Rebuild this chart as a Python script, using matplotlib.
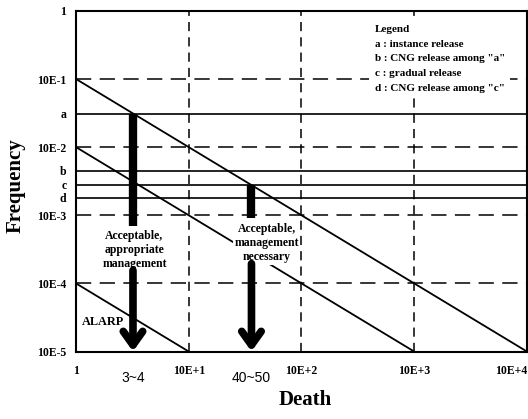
import matplotlib
matplotlib.use('Agg')
import matplotlib.pyplot as plt
import numpy as np

# y levels
level_a = 3.1e-2
level_b = 4.5e-3
level_c = 2.8e-3
level_d = 1.8e-3

y_ticks = [1e-5, 1e-4, 1e-3, level_d, level_c, level_b, 1e-2, level_a, 1e-1, 1]
y_labels = ['10E-5', '10E-4', '10E-3', 'd', 'c', 'b', '10E-2', 'a', '10E-1', '1']
x_ticks = [1, 10, 100, 1000, 10000]
x_labels = ['1', '10E+1', '10E+2', '10E+3', '10E+4']

# criterion lines (death, frequency)
line_x = [[1, 10000], [1, 1000], [1, 10]]
line_y = [[1e-1, 1e-5], [1e-2, 1e-5], [1e-4, 1e-5]]

# arrows: x position, top of bar, end of upper part, start of lower part
arrow_x = [3.2, 36]
arrow_top = [level_a, level_c]
arrow_mid_end = [7.0e-4, 9.2e-4]
arrow_low_start = [1.55e-4, 1.95e-4]
arrow_labels = ['3~4', '40~50']
arrow_texts = ['Acceptable,\nappropriate\nmanagement', 'Acceptable,\nmanagement\nnecessary']
text_pos = [(3.3, 3.1e-4), (49, 3.9e-4)]

legend_lines = ['Legend', 'a : instance release', 'b : CNG release among "a"',
                'c : gradual release', 'd : CNG release among "c"']

serif = 'Liberation Serif'

fig = plt.figure(figsize=(5.28, 4.19), dpi=100)
ax = fig.add_axes([0.144, 0.161, 0.854, 0.813])
ax.set_xscale('log')
ax.set_yscale('log')
ax.set_xlim(1, 10000)
ax.set_ylim(1e-5, 1)

# dashed grid (vertical ones drawn above the text boxes)
for xv in x_ticks[1:-1]:
    ax.axvline(xv, color='k', lw=1.1, ls=(0, (6, 4)), zorder=3)
for yv in [1e-1, 1e-2, 1e-3, 1e-4]:
    ax.axhline(yv, color='k', lw=1.1, ls=(0, (10, 5.5)))

for yv in [level_a, level_b, level_c, level_d]:
    ax.axhline(yv, color='k', lw=1.2)

for xs, ys in zip(line_x, line_y):
    ax.plot(xs, ys, color='k', lw=1.3)

for i in range(len(arrow_x)):
    ax.plot([arrow_x[i], arrow_x[i]], [arrow_top[i], arrow_mid_end[i]],
            color='k', lw=6, solid_capstyle='butt', zorder=4)
    ax.annotate('', xy=(arrow_x[i], 1e-5), xytext=(arrow_x[i], arrow_low_start[i]),
                arrowprops=dict(arrowstyle='->, head_width=0.5, head_length=0.7',
                                lw=5.5, color='k', shrinkA=0, shrinkB=0,
                                mutation_scale=14), zorder=4)
    ax.text(text_pos[i][0], text_pos[i][1], arrow_texts[i], ha='center', va='center',
            fontsize=8.5, family=serif, fontweight='bold', linespacing=1.25,
            bbox=dict(facecolor='white', edgecolor='none', pad=1), zorder=2.5)
    ax.text(arrow_x[i], -0.078, arrow_labels[i], transform=ax.get_xaxis_transform(),
            ha='center', va='center', fontsize=10, family='Liberation Sans')

ax.text(1.73, 2.7e-5, 'ALARP', ha='center', va='center', fontsize=8.8,
        family=serif, fontweight='bold')

ax.text(0.662, 0.958, '\n'.join(legend_lines), transform=ax.transAxes,
        ha='left', va='top', fontsize=8, family=serif, fontweight='bold',
        linespacing=1.8,
        bbox=dict(facecolor='white', edgecolor='none', pad=4), zorder=5)

ax.set_xticks(x_ticks)
ax.set_xticklabels(x_labels)
ax.set_yticks(y_ticks)
ax.set_yticklabels(y_labels)
ax.minorticks_off()
ax.tick_params(length=0, labelsize=8.5)
ax.tick_params(axis='x', pad=10)
ax.tick_params(axis='y', pad=7)
for lab in ax.get_xticklabels() + ax.get_yticklabels():
    lab.set_family(serif)
    lab.set_fontweight('bold')
ax.get_xticklabels()[-1].set_horizontalalignment('right')
for sp in ax.spines.values():
    sp.set_linewidth(1.5)

fig.text(0.03, 0.558, 'Frequency', rotation=90, ha='center', va='center',
         fontsize=15, family=serif, fontweight='bold')
fig.text(0.578, 0.045, 'Death', ha='center', va='center',
         fontsize=15, family=serif, fontweight='bold')

fig.savefig('out.png', dpi=100)
